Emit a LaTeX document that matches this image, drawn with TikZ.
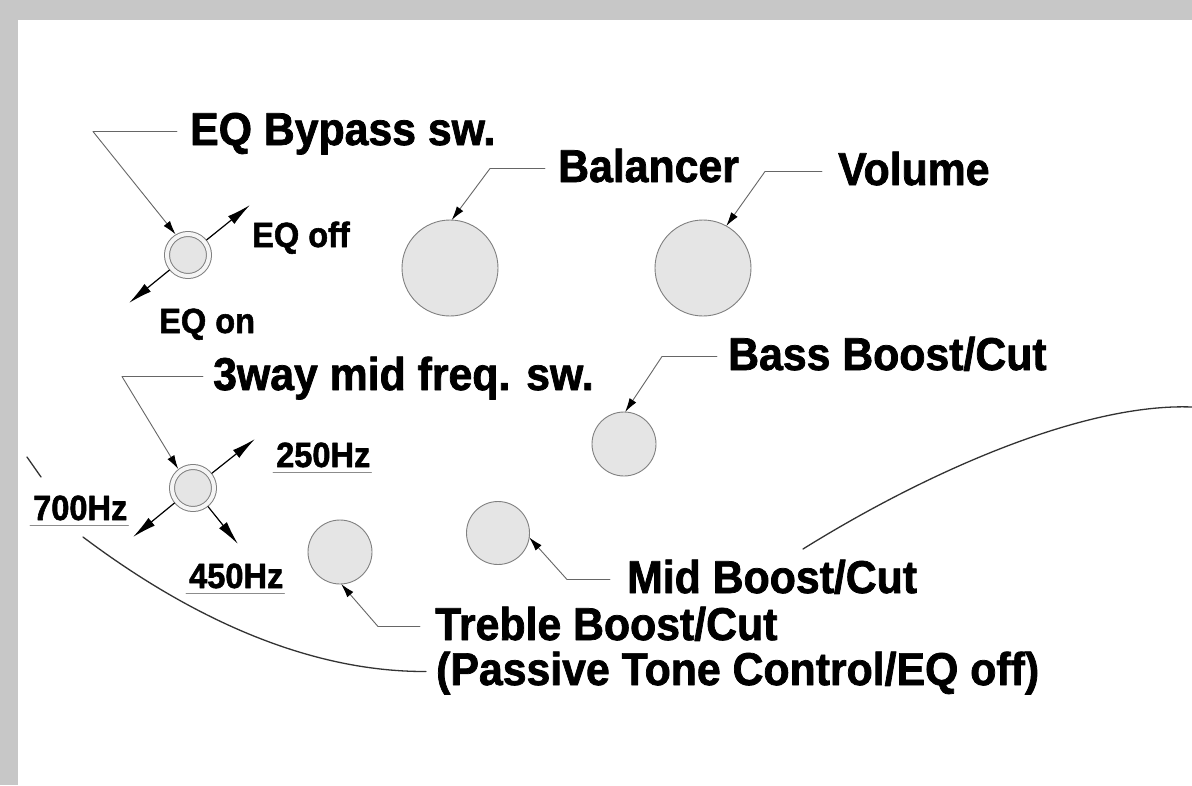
\documentclass[tikz,border=0pt]{standalone}
\usepackage{fontspec}
\setmainfont{Liberation Sans}[FakeStretch=0.93,FakeBold=1.6]
\usetikzlibrary{arrows.meta}

\begin{document}
\begin{tikzpicture}[x=1pt,y=-1pt,line cap=round,line join=round,
    knob/.style={circle,draw=black!50,fill=black!10,line width=0.9pt,inner sep=0pt,outer sep=0pt},
    toggle/.style={circle,draw=black!50,double=black!4,double distance=4pt,line width=1pt,
      fill=black!10,minimum size=42pt,inner sep=0pt,outer sep=3pt},
    biglbl/.style={font=\fontsize{46}{50}\selectfont\bfseries,inner sep=0pt,anchor=base west,
      text height=27pt,text depth=0pt},
    smalllbl/.style={font=\fontsize{35}{38}\selectfont\bfseries,inner sep=0pt,anchor=base west,
      text height=21pt,text depth=0pt},
    lead/.style={draw=black!60,line width=0.9pt,-{Latex[length=14pt,width=8pt,color=black]}},
    throw/.style={draw=black,line width=1.2pt,-{Latex[length=24pt,width=10pt]}},
    uline/.style={draw=black!45,line width=0.7pt},
    body/.style={draw=black!80,line width=1.3pt}]
  \useasboundingbox (0,0) rectangle (1192,785);

  % Page frame
  \fill[black!22] (0,0) rectangle (1192,785);
  \fill[white] (18,20) rectangle (1192,785);

  % Knobs and switches
  \node[knob,minimum size=96pt] (bal) at (450,268) {};
  \node[knob,minimum size=96pt] (vol) at (703,268) {};
  \node[knob,minimum size=64pt] (bass) at (624,444) {};
  \node[knob,minimum size=64pt] (treb) at (340,552) {};
  \node[knob,minimum size=63pt] (mid) at (498,533) {};
  \node[toggle] (eqsw) at (188,255) {};
  \node[toggle] (midsw) at (193,488) {};

  % Labels
  \node[biglbl] (eqtxt) at (190,145) {EQ Bypass sw.};
  \node[biglbl] (baltxt) at (558,182) {Balancer};
  \node[biglbl] (voltxt) at (838,185) {Volume};
  \node[biglbl] (swtxt) at (213,390) {3way mid freq. sw.};
  \node[biglbl] (basstxt) at (728,370) {Bass Boost/Cut};
  \node[biglbl] (midtxt) at (627,593) {Mid Boost/Cut};
  \node[biglbl] (trebtxt) at (435,640) {Treble Boost/Cut};
  \node[biglbl] (passtxt) at (436,685) {(Passive Tone Control/EQ off)};
  \node[smalllbl] (offtxt) at (252,247) {EQ off};
  \node[smalllbl] (ontxt) at (159,333) {EQ on};
  \node[smalllbl] (f250) at (276,467) {250Hz};
  \node[smalllbl] (f700) at (33,520) {700Hz};
  \node[smalllbl] (f450) at (189,588) {450Hz};

  % Leaders
  \draw[lead] ([xshift=-13pt]eqtxt.west) -- ++(-84,0) -- (eqsw.121);
  \draw[lead] ([xshift=-13pt]baltxt.west) -- ++(-55,0) -- (bal.88);
  \draw[lead] ([xshift=-16pt]voltxt.west) -- ++(-57,0) -- (vol.61);
  \draw[lead] ([xshift=-11pt]basstxt.west) -- ++(-55,0) -- (bass.88);
  \draw[lead] ([xshift=-10pt]swtxt.west) -- ++(-81,0) -- (midsw.128);
  \draw[lead] ([xshift=-17pt]midtxt.west) -- ++(-43,0) -- (mid.-8);
  \draw[lead] ([xshift=-15pt]trebtxt.west) -- ++(-42,0) -- (treb.-88);

  % Switch positions
  \coordinate (eqoff) at (250,205);
  \coordinate (eqon) at (129,303);
  \coordinate (hz250) at (255,439);
  \coordinate (hz700) at (133,537);
  \coordinate (hz450) at (238,544);
  \draw[throw] (eqsw.39) -- (eqoff);
  \draw[throw] (eqsw.219) -- (eqon);
  \draw[throw] (midsw.38) -- (hz250);
  \draw[throw] (midsw.219) -- (hz700);
  \draw[throw] (midsw.-51) -- (hz450);
  \foreach \f in {f250,f700,f450}
    \draw[uline] ([shift={(-3pt,-5pt)}]\f.south west) -- ([shift={(1pt,-5pt)}]\f.south east);

  % Body outline
  \coordinate (rima) at (27,457);
  \coordinate (rimb) at (41,477);
  \coordinate (rimc) at (83,537);
  \coordinate (rimd) at (803,549);
  \coordinate (rime) at (1192,407);
  \draw[body] (rima) -- (rimb);
  \draw[body] (rimc) .. controls (180,610) and (300,672) .. ([xshift=-10pt]passtxt.west);
  \draw[body] (rimd) .. controls (930,470) and (1085,403) .. (rime);
\end{tikzpicture}
\end{document}
